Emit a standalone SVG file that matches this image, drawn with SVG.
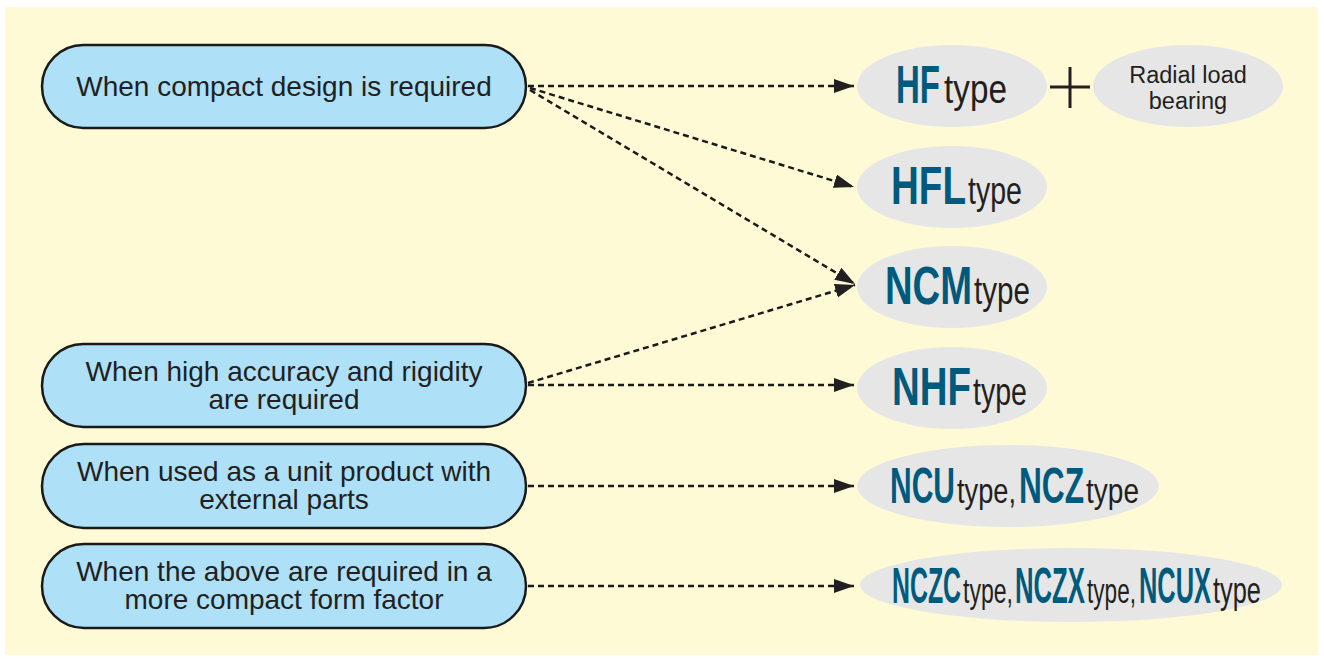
<svg xmlns="http://www.w3.org/2000/svg" width="1324" height="659" viewBox="0 0 1324 659">
<style>
.box{fill:#aee0f8;stroke:#1a1a1a;stroke-width:2.5}
.ell{fill:#e6e6e6}
.lt{font-family:"Liberation Sans",Arial,sans-serif;font-size:28px;fill:#231f20;text-anchor:middle}
.b{font-family:"Liberation Sans",Arial,sans-serif;font-weight:bold;fill:#005a7d}
.t{font-family:"Liberation Sans",Arial,sans-serif;fill:#231f20}
.rl{font-family:"Liberation Sans",Arial,sans-serif;font-size:23.5px;fill:#231f20;text-anchor:middle}
.con{fill:none;stroke:#1a1a1a;stroke-width:2.5;stroke-dasharray:6 4}
</style>
<defs>
<marker id="ah" markerUnits="userSpaceOnUse" markerWidth="22" markerHeight="16" refX="20" refY="7" orient="auto">
<path d="M0,0 L20,7 L0,14 z" fill="#231f20"/>
</marker>
</defs>
<rect x="0" y="0" width="1324" height="659" fill="#ffffff"/>
<rect x="5" y="7" width="1313" height="648" fill="#fffad6"/>

<g id="connectors">
<line class="con" x1="528" y1="86" x2="854" y2="86" marker-end="url(#ah)"/>
<line class="con" x1="530" y1="88" x2="854" y2="187" marker-end="url(#ah)"/>
<line class="con" x1="530" y1="90" x2="855" y2="284" marker-end="url(#ah)"/>
<line class="con" x1="528" y1="383" x2="855" y2="285" marker-end="url(#ah)"/>
<line class="con" x1="528" y1="385" x2="854" y2="385" marker-end="url(#ah)"/>
<line class="con" x1="528" y1="486" x2="854" y2="486" marker-end="url(#ah)"/>
<line class="con" x1="528" y1="586" x2="854" y2="586" marker-end="url(#ah)"/>
</g>

<g id="cond-compact">
<rect class="box" x="42" y="45" width="484" height="83" rx="41.5"/>
<text class="lt" x="284" y="96">When compact design is required</text>
</g>
<g id="cond-accuracy">
<rect class="box" x="42" y="344" width="484" height="83" rx="41.5"/>
<text class="lt" x="284" y="381">When high accuracy and rigidity</text>
<text class="lt" x="284" y="409">are required</text>
</g>
<g id="cond-unit">
<rect class="box" x="42" y="444" width="484" height="84" rx="42"/>
<text class="lt" x="284" y="481">When used as a unit product with</text>
<text class="lt" x="284" y="509">external parts</text>
</g>
<g id="cond-more-compact">
<rect class="box" x="42" y="544" width="484" height="84" rx="42"/>
<text class="lt" x="284" y="581">When the above are required in a</text>
<text class="lt" x="284" y="609">more compact form factor</text>
</g>

<g id="hf">
<ellipse class="ell" cx="952" cy="86" rx="95" ry="41"/>
<text class="b" font-size="53" transform="translate(896,103) scale(0.623,1)">HF</text>
<text class="t" font-size="40" transform="translate(944,103) scale(0.833,1)">type</text>
</g>
<g id="plus">
<line x1="1050" y1="87" x2="1090" y2="87" stroke="#231f20" stroke-width="3"/>
<line x1="1070" y1="67" x2="1070" y2="108" stroke="#231f20" stroke-width="3"/>
</g>
<g id="radial">
<ellipse class="ell" cx="1188" cy="86" rx="95" ry="41"/>
<text class="rl" x="1188" y="83">Radial load</text>
<text class="rl" x="1188" y="109">bearing</text>
</g>
<g id="hfl">
<ellipse class="ell" cx="952" cy="187" rx="95" ry="41"/>
<text class="b" font-size="53" transform="translate(891,204) scale(0.728,1)">HFL</text>
<text class="t" font-size="38" transform="translate(968,204) scale(0.752,1)">type</text>
</g>
<g id="ncm">
<ellipse class="ell" cx="952" cy="287" rx="95" ry="41"/>
<text class="b" font-size="54" transform="translate(885,304) scale(0.708,1)">NCM</text>
<text class="t" font-size="38" transform="translate(974,304) scale(0.78,1)">type</text>
</g>
<g id="nhf">
<ellipse class="ell" cx="952" cy="388" rx="95" ry="41"/>
<text class="b" font-size="54" transform="translate(892,405) scale(0.712,1)">NHF</text>
<text class="t" font-size="38" transform="translate(973,405) scale(0.752,1)">type</text>
</g>
<g id="ncu-ncz">
<ellipse class="ell" cx="1008" cy="486" rx="151" ry="41"/>
<text class="b" font-size="50" transform="translate(890,503) scale(0.6,1)">NCU</text>
<text class="t" font-size="36" transform="translate(957,503) scale(0.756,1)">type,</text>
<text class="b" font-size="50" transform="translate(1019,503) scale(0.633,1)">NCZ</text>
<text class="t" font-size="36" transform="translate(1086,503) scale(0.779,1)">type</text>
</g>
<g id="nczc-nczx-ncux">
<ellipse class="ell" cx="1071" cy="585" rx="211" ry="37"/>
<text class="b" font-size="50" transform="translate(892,603) scale(0.497,1)">NCZC</text>
<text class="t" font-size="36" transform="translate(963,603) scale(0.641,1)">type,</text>
<text class="b" font-size="50" transform="translate(1015,603) scale(0.514,1)">NCZX</text>
<text class="t" font-size="36" transform="translate(1087,603) scale(0.628,1)">type,</text>
<text class="b" font-size="50" transform="translate(1139,603) scale(0.508,1)">NCUX</text>
<text class="t" font-size="36" transform="translate(1213,603) scale(0.705,1)">type</text>
</g>
</svg>
